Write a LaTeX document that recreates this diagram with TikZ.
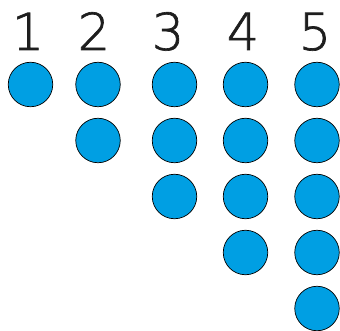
\documentclass[tikz,border=0pt]{standalone}
\usepackage{fontspec}
\newfontfamily\numfont{DejaVu Sans}[UprightFont=* ExtraLight,FakeBold=1.3]
\definecolor{dotblue}{RGB}{0,159,227}
\definecolor{numgray}{RGB}{30,30,30}
\begin{document}
\begin{tikzpicture}[x=1pt,y=-1pt,
  dot/.style={circle,draw=black,line width=0.7pt,fill=dotblue,minimum size=44.5pt,inner sep=0pt},
  num/.style={font=\numfont\fontsize{51}{51}\selectfont,text=numgray,inner sep=0pt,anchor=base}]
\useasboundingbox (0,0) rectangle (340,331);
\foreach \c/\d/\tx in {1/1/28,2/2/94,3/3/168,4/4/243,5/5/315}{
  \node[num] (n\c) at (\tx,50) {\d};
}
\foreach \c/\x in {1/30.5,2/98,3/174.5,4/245.5,5/317}{
  \foreach \r in {1,...,\c}{
    \node[dot] (d\c\r) at (\x,{84.5+56*(\r-1)}) {};
  }
}
\end{tikzpicture}
\end{document}
